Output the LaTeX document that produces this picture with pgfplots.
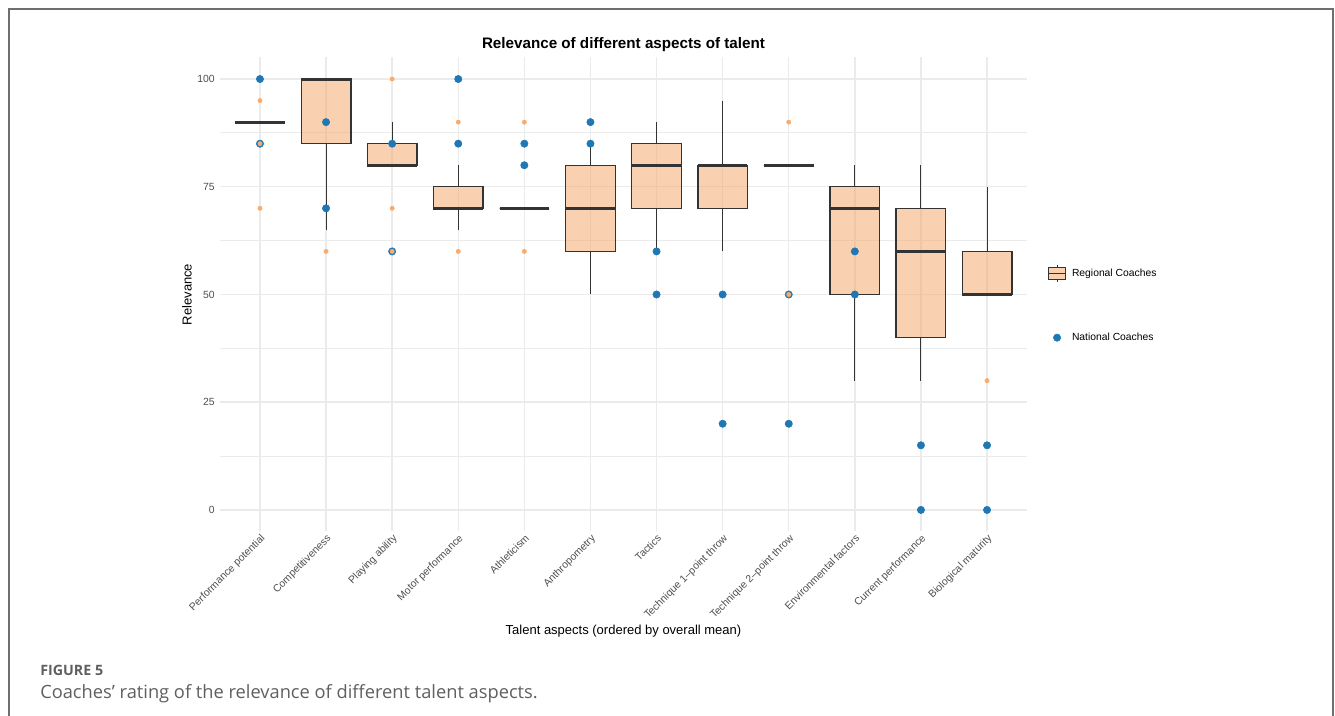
\documentclass[border=0pt]{standalone}
\usepackage{pgfplots}
\pgfplotsset{compat=1.18}
\usepackage{fontspec}
\setmainfont{Liberation Sans}
\newfontfamily\capfont{Open Sans}
\definecolor{gridc}{RGB}{235,235,235}
\definecolor{ticktext}{RGB}{77,77,77}
\definecolor{boxfill}{RGB}{244,163,99}
\definecolor{boxfillsolid}{RGB}{249,209,177}
\definecolor{boxline}{RGB}{51,51,51}
\definecolor{orangept}{RGB}{253,170,105}
\definecolor{bluept}{RGB}{31,120,180}
\definecolor{framec}{RGB}{110,110,110}
\definecolor{capc}{RGB}{95,95,95}
\pgfplotsset{
  boxst/.style={forget plot, mark=none, draw=boxline, line width=1pt, fill=boxfill, fill opacity=0.5, draw opacity=1},
  whiskst/.style={forget plot, mark=none, draw=boxline, line width=0.8pt},
  medst/.style={forget plot, mark=none, draw=boxline, line width=2.2pt},
}
% \rbox{position}{lower whisker}{lower quartile}{median}{upper quartile}{upper whisker}
\newcommand{\rbox}[6]{%
  \pgfmathsetmacro{\xl}{#1-0.375}\pgfmathsetmacro{\xr}{#1+0.375}%
  \edef\tmp{%
    \noexpand\addplot[boxst] coordinates {(\xl,#3) (\xr,#3) (\xr,#5) (\xl,#5)} --cycle;%
    \noexpand\addplot[whiskst] coordinates {(#1,#3) (#1,#2)};%
    \noexpand\addplot[whiskst] coordinates {(#1,#5) (#1,#6)};%
    \noexpand\addplot[medst] coordinates {(\xl,#4) (\xr,#4)};%
  }\tmp}
\begin{document}
\begin{tikzpicture}
\useasboundingbox (0pt,0pt) rectangle (1001.25pt,537pt);
\draw[framec, line width=1.5pt] (6.75pt,0pt) -- (6.75pt,530.25pt) -- (999.75pt,530.25pt) -- (999.75pt,0pt);
\node[anchor=base west, inner sep=0pt, text=capc, font=\capfont\bfseries\fontsize{10.7}{12}\selectfont] at (30pt,30pt) {FIGURE 5};
\node[anchor=base west, inner sep=0pt, text=capc, font=\capfont\fontsize{13.7}{15}\selectfont] at (30pt,12.75pt) {Coaches’ rating of the relevance of different talent aspects.};
\begin{axis}[
  at={(165.225pt,138.375pt)}, anchor=south west,
  scale only axis, width=604.8pt, height=355.5pt,
  xmin=0.4, xmax=12.6, ymin=-5, ymax=105,
  axis line style={draw=none},
  major tick length=0pt, minor tick length=0pt,
  xtick={1,...,12},
  xticklabels={Performance potential, Competitiveness, Playing ability, Motor performance, Athleticism, Anthropometry, Tactics, Technique 1–point throw, Technique 2–point throw, Environmental factors, Current performance, Biological maturity},
  ytick={0,25,50,75,100},
  minor ytick={12.5,37.5,62.5,87.5},
  xmajorgrids, ymajorgrids, yminorgrids,
  major grid style={gridc, line width=1.1pt},
  minor grid style={gridc, line width=0.6pt},
  /pgf/number format/assume math mode=true,
  tick label style={font=\fontsize{7.8}{9}\selectfont, text=ticktext},
  xticklabel style={rotate=45, anchor=north east, inner sep=1pt},
  yticklabel style={anchor=east, inner sep=1pt, xshift=-3pt},
  title={Relevance of different aspects of talent},
  title style={at={(axis description cs:0.5,1.0095)}, anchor=center, font=\bfseries\fontsize{11.4}{13}\selectfont},
  xlabel={Talent aspects (ordered by overall mean)},
  ylabel={Relevance},
  every axis x label/.style={at={(axis description cs:0.5,-0.21)}, anchor=center, font=\fontsize{9.75}{11}\selectfont},
  every axis y label/.style={at={(axis description cs:-0.0413,0.5)}, rotate=90, anchor=center, font=\fontsize{9.75}{11}\selectfont},
  legend style={at={(axis description cs:1.026,0.477)}, anchor=west, draw=none, fill=none, inner sep=0pt, row sep=35pt, font=\fontsize{7.75}{9}\selectfont, nodes={inner sep=0pt}},
  legend cell align=left,
]
\addlegendimage{legend image code/.code={
  \path[draw=none, fill=none] (0pt,-6.5pt) rectangle (17.7pt,6.5pt);
  \draw[boxline, line width=0.6pt] (6.5pt,-6.4pt) -- (6.5pt,6.4pt);
  \draw[draw=boxline, fill=boxfillsolid, line width=0.6pt] (0pt,-4.25pt) rectangle (13pt,4.25pt);
  \draw[boxline, line width=0.7pt] (0pt,0pt) -- (13pt,0pt);}}
\addlegendentry{Regional Coaches}
\addlegendimage{legend image code/.code={
  \path[draw=none, fill=none] (0pt,-6.5pt) rectangle (17.7pt,6.5pt);
  \fill[bluept] (6.5pt,0pt) circle (2.75pt);}}
\addlegendentry{National Coaches}

% Regional coaches: position, lower whisker, Q1, median, Q3, upper whisker
\rbox{1}{90}{90}{90}{90}{90}
\rbox{2}{65}{85}{100}{100}{100}
\rbox{3}{80}{80}{80}{85}{90}
\rbox{4}{65}{70}{70}{75}{80}
\rbox{5}{70}{70}{70}{70}{70}
\rbox{6}{50}{60}{70}{80}{85}
\rbox{7}{60}{70}{80}{85}{90}
\rbox{8}{60}{70}{80}{80}{95}
\rbox{9}{80}{80}{80}{80}{80}
\rbox{10}{30}{50}{70}{75}{80}
\rbox{11}{30}{40}{60}{70}{80}
\rbox{12}{50}{50}{50}{60}{75}

% National coaches
\addplot[forget plot, only marks, mark=*, mark size=2.75pt, color=bluept, mark options={draw=bluept, fill=bluept}] coordinates {
(1,100) (1,85) (2,90) (2,70) (3,85) (3,60) (4,100) (4,85) (5,85) (5,80) (6,90) (6,85)
(7,60) (7,50) (8,50) (8,20) (9,50) (9,20) (10,60) (10,50) (11,15) (11,0) (12,15) (12,0)};

% Regional outliers
\addplot[forget plot, only marks, mark=*, mark size=1.6pt, color=orangept, mark options={draw=orangept, fill=orangept}] coordinates {
(1,95) (1,85) (1,70) (2,60) (3,100) (3,70) (3,60) (4,90) (4,60) (5,90) (5,60) (9,90) (9,50) (12,30)};
\end{axis}
\end{tikzpicture}
\end{document}
